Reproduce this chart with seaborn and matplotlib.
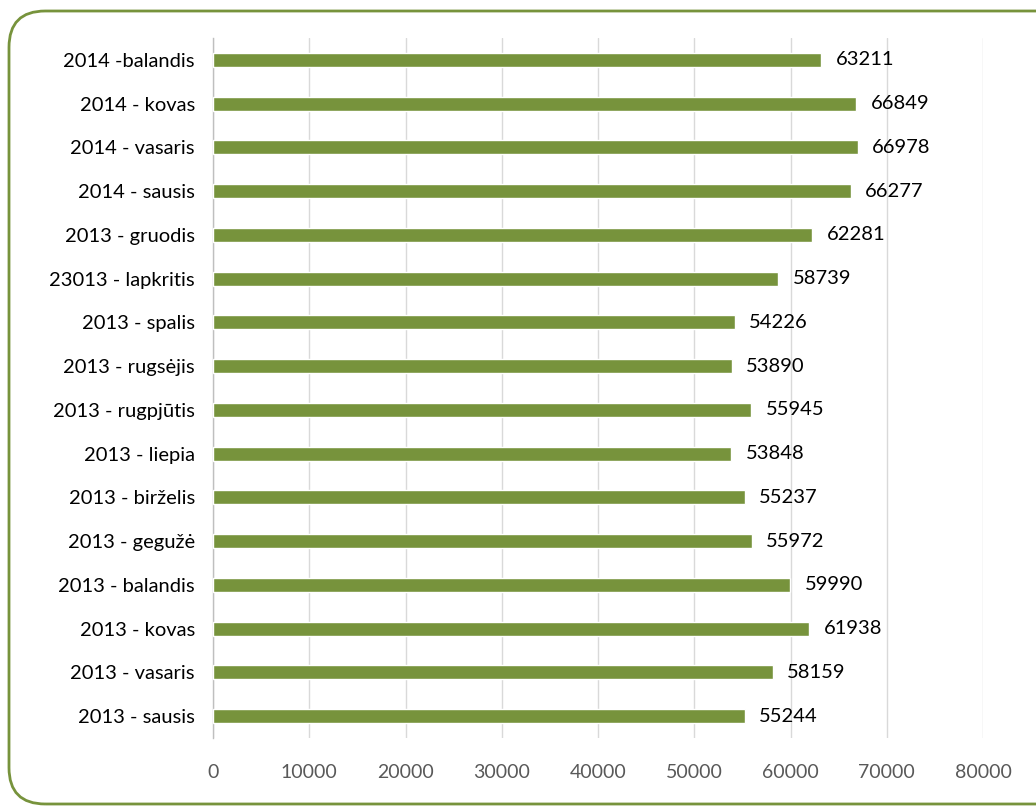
import matplotlib
matplotlib.use("Agg")
import matplotlib.pyplot as plt
from matplotlib.patches import FancyBboxPatch
from matplotlib.ticker import FixedLocator
import seaborn as sns
import pandas as pd
import numpy as np

categories = [
    "2014 -balandis", "2014 - kovas", "2014 - vasaris", "2014 - sausis",
    "2013 - gruodis", "23013 - lapkritis", "2013 - spalis", "2013 - rugsėjis",
    "2013 - rugpjūtis", "2013 - liepia", "2013 - birželis", "2013 - gegužė",
    "2013 - balandis", "2013 - kovas", "2013 - vasaris", "2013 - sausis",
]
values = [63211, 66849, 66978, 66277, 62281, 58739, 54226, 53890,
          55945, 53848, 55237, 55972, 59990, 61938, 58159, 55244]
x_ticks = [0, 10000, 20000, 30000, 40000, 50000, 60000, 70000, 80000]

df = pd.DataFrame({"category": categories, "value": values})

sns.set_style("white")
plt.rcParams["font.family"] = ["Lato", "DejaVu Sans"]

fig = plt.figure(figsize=(10.36, 8.11), dpi=100)
ax = fig.add_axes([213/1036, 1-738/811, (983-213)/1036, 700/811])

# rounded frame
frame = FancyBboxPatch((9/1036, 1-804/811), 1.05, (804-11)/811,
                       boxstyle="round,pad=0,rounding_size=0.035",
                       transform=fig.transFigure, fill=False,
                       edgecolor="#77933C", linewidth=2, zorder=0,
                       mutation_aspect=1036/811)
fig.patches.append(frame)

sns.barplot(data=df, x="value", y="category", orient="h", color="#77933C",
            width=0.32, saturation=1, ax=ax, zorder=3)

for i, v in enumerate(values):
    ax.text(v + 1500, i, f"{v}", va="center", ha="left", fontsize=14.5,
            color="#000000", zorder=4)

ax.set_xlim(0, 80000)
ax.set_ylim(len(categories) - 0.5, -0.5)
ax.set_xticks(x_ticks)
ax.set_xticklabels([str(t) for t in x_ticks], color="#595959", fontsize=14)
ax.tick_params(axis="x", length=0, pad=19)
ax.tick_params(axis="y", which="major", length=5, color="#BFBFBF",
               labelsize=14.5, labelcolor="#000000", pad=8)
ax.yaxis.set_minor_locator(FixedLocator(np.arange(-0.5, len(categories), 1)))
ax.tick_params(axis="y", which="minor", length=6, color="#BFBFBF", width=1)
ax.set_xlabel("")
ax.set_ylabel("")

ax.grid(axis="x", color="#D9D9D9", linewidth=1, zorder=0)
ax.set_axisbelow(True)
for s in ["top", "right", "bottom"]:
    ax.spines[s].set_visible(False)
ax.spines["left"].set_color("#BFBFBF")
ax.spines["left"].set_linewidth(1)

fig.savefig("out.png", dpi=100)
